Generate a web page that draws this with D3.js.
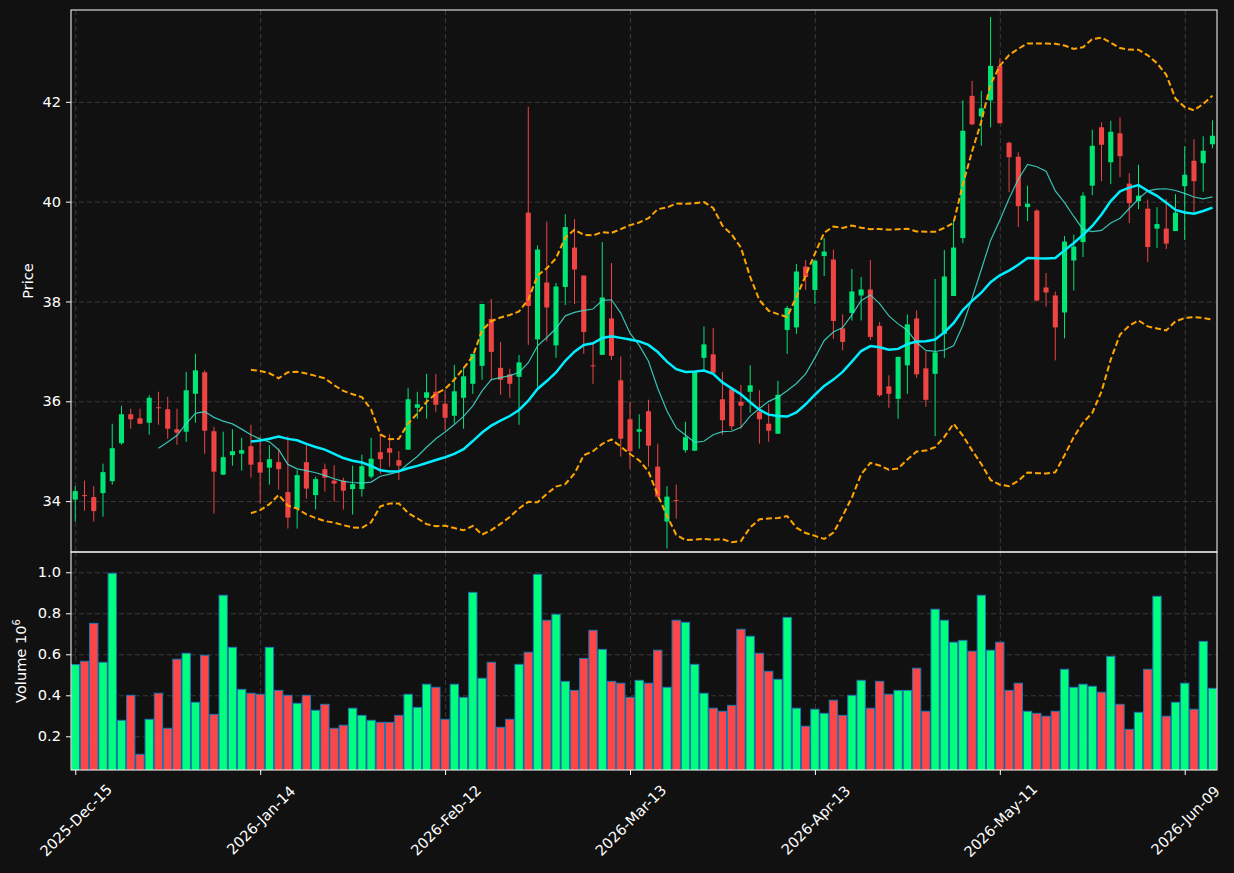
<!DOCTYPE html>
<html>
<head>
<meta charset="utf-8">
<script src="https://cdn.jsdelivr.net/npm/d3@7"></script>
<style>
  body { margin: 0; background: #111111; }
  text { font-family: "DejaVu Sans", sans-serif; }
</style>
</head>
<body>
<svg id="chart"></svg>
<script>
var width = 1234;
var height = 873;
var left = 71, right = 1217;
var priceTop = 10, priceBottom = 552, volBottom = 770;

// daily OHLC
var opens = [34.03,34.12,34.08,34.16,34.40,35.16,35.74,35.66,35.57,35.88,
  35.84,35.44,35.39,36.15,36.58,35.40,34.53,34.92,34.95,35.10,
  34.78,34.67,34.78,34.18,33.85,34.78,34.12,34.64,34.41,34.41,
  34.24,34.24,34.49,34.98,35.06,34.82,35.03,35.87,36.07,36.19,
  35.95,35.71,36.07,36.35,36.71,37.65,36.67,36.54,36.49,39.78,
  37.24,38.38,37.12,38.29,39.08,38.52,36.72,36.93,37.66,36.42,
  35.64,35.39,35.80,34.69,33.59,34.02,35.02,35.01,36.87,36.94,
  36.04,36.24,35.99,36.19,35.79,35.55,35.35,37.43,37.48,38.70,
  38.23,38.91,38.84,37.46,37.77,38.12,38.24,37.51,36.30,36.05,
  36.72,37.66,36.66,36.55,37.35,38.11,39.27,42.12,41.71,42.03,
  42.72,41.18,40.90,39.89,39.82,38.28,38.12,37.78,38.82,39.19,
  40.32,41.49,40.79,41.37,40.36,40.01,39.86,39.46,39.46,39.41,
  40.31,40.82,40.77,41.15];
var highs = [34.30,34.41,34.30,34.75,35.55,35.91,35.85,35.85,36.12,36.19,
  36.09,35.85,36.59,36.95,36.62,35.49,35.39,35.44,35.27,35.53,
  35.29,35.12,35.05,35.30,34.62,35.12,34.49,34.75,34.72,34.47,
  34.71,34.93,35.27,35.35,35.34,35.00,36.27,36.19,36.55,36.55,
  36.22,36.73,36.69,36.95,37.95,38.05,37.19,36.65,36.93,41.90,
  39.12,39.60,38.37,39.75,39.65,38.52,37.15,39.19,38.77,36.90,
  35.99,35.74,36.03,35.15,34.30,34.33,35.59,36.60,37.50,37.47,
  36.59,36.24,36.33,36.72,36.22,35.95,36.41,37.91,38.75,38.83,
  38.82,39.27,39.04,37.74,38.65,38.49,38.83,37.59,36.52,36.89,
  37.74,37.82,37.00,38.45,39.03,39.63,42.03,42.42,42.22,43.70,
  42.87,41.20,40.99,40.32,39.85,38.57,38.20,39.31,39.34,40.19,
  41.44,41.59,41.62,41.69,40.57,40.74,40.04,39.89,40.05,40.15,
  41.11,41.25,41.31,41.63];
var lows = [33.59,33.81,33.59,33.69,34.33,35.13,35.45,35.54,35.33,35.53,
  35.25,35.13,35.19,35.57,34.95,33.75,34.52,34.71,34.61,34.47,
  33.95,34.33,34.23,33.45,33.45,34.05,33.83,34.19,33.99,33.83,
  33.73,34.09,34.45,34.55,34.69,34.42,35.03,35.65,35.65,35.79,
  35.42,35.55,35.45,36.15,36.43,36.42,36.13,36.07,35.53,37.13,
  36.29,37.20,36.87,37.93,37.95,36.95,36.35,36.93,36.83,34.89,
  34.65,35.05,34.69,34.07,33.05,33.65,34.97,35.00,36.62,36.57,
  35.33,35.42,35.45,35.77,35.15,35.19,35.35,36.95,37.35,38.23,
  37.95,38.51,37.25,37.02,37.62,37.62,37.23,36.09,35.87,35.65,
  36.15,36.47,35.89,35.30,36.87,38.11,39.17,41.53,41.12,41.49,
  41.57,40.19,39.49,39.61,38.00,37.90,36.82,37.26,38.22,38.89,
  40.13,40.41,40.35,40.49,39.57,39.85,38.79,39.07,39.05,39.41,
  39.23,39.76,40.20,41.07];
var closes = [34.20,34.10,33.80,34.58,35.06,35.74,35.64,35.55,36.07,35.86,
  35.45,35.37,36.22,36.62,35.41,34.59,34.88,35.00,35.02,34.73,
  34.57,34.84,34.64,33.67,34.52,34.25,34.44,34.47,34.35,34.21,
  34.34,34.70,34.85,34.84,34.97,34.71,36.04,35.94,36.18,35.93,
  35.67,36.20,36.50,36.95,37.95,36.99,36.43,36.35,36.78,37.91,
  39.04,37.88,38.30,39.49,38.64,37.39,36.70,38.08,36.91,35.25,
  35.00,35.44,35.11,34.09,34.09,34.00,35.28,36.59,37.14,36.57,
  35.62,35.50,35.91,36.32,35.64,35.41,36.13,37.87,38.60,38.49,
  38.82,39.00,37.61,37.19,38.20,38.24,37.29,36.12,36.15,36.89,
  37.54,36.54,36.03,36.98,38.50,39.08,41.42,41.55,41.87,42.72,
  41.57,40.89,39.91,39.96,38.02,38.18,37.48,39.20,39.10,40.12,
  41.12,41.14,41.40,40.91,39.97,40.12,39.09,39.55,39.16,39.78,
  40.54,40.41,41.02,41.32];
// volume in millions
var volumes = [0.550,0.566,0.751,0.561,0.995,0.278,0.400,0.112,0.283,0.410,
  0.239,0.576,0.605,0.366,0.595,0.307,0.888,0.634,0.429,0.410,
  0.405,0.634,0.424,0.400,0.361,0.400,0.327,0.356,0.239,0.254,
  0.337,0.302,0.278,0.268,0.268,0.302,0.405,0.341,0.454,0.439,
  0.283,0.454,0.390,0.902,0.483,0.561,0.244,0.283,0.551,0.610,
  0.990,0.766,0.795,0.468,0.424,0.580,0.717,0.624,0.468,0.459,
  0.390,0.473,0.459,0.620,0.439,0.766,0.756,0.551,0.410,0.337,
  0.322,0.351,0.722,0.688,0.605,0.517,0.478,0.780,0.337,0.249,
  0.332,0.312,0.376,0.302,0.400,0.473,0.337,0.468,0.405,0.424,
  0.424,0.532,0.322,0.820,0.766,0.659,0.668,0.615,0.888,0.620,
  0.659,0.424,0.459,0.322,0.312,0.298,0.322,0.527,0.439,0.454,
  0.444,0.415,0.590,0.356,0.234,0.317,0.527,0.883,0.298,0.366,
  0.459,0.332,0.663,0.434];

var tickIdx = [0, 20, 40, 60, 80, 100, 120];
var tickLabels = ["2025-Dec-15", "2026-Jan-14", "2026-Feb-12", "2026-Mar-13",
  "2026-Apr-13", "2026-May-11", "2026-Jun-09"];
var priceTicks = [34, 36, 38, 40, 42];
var volTicks = [0.2, 0.4, 0.6, 0.8, 1.0];

var candles = closes.map((c, i) => ({i: i, o: opens[i], h: highs[i], l: lows[i], c: c, v: volumes[i]}));

// moving averages and bollinger bands (20, 2 sd)
function sma(n) {
  return closes.map((c, i) => {
    if (i < n - 1) return null;
    return {i: i, v: d3.mean(closes.slice(i - n + 1, i + 1))};
  }).filter(d => d);
}
var sma10 = sma(10);
var sma20 = sma(20);
var bbUpper = [], bbLower = [];
closes.forEach((c, i) => {
  if (i < 19) return;
  var w = closes.slice(i - 19, i + 1);
  var m = d3.mean(w);
  var sd = Math.sqrt(d3.mean(w, d => (d - m) * (d - m)));
  bbUpper.push({i: i, v: m + 2 * sd});
  bbLower.push({i: i, v: m - 2 * sd});
});

var upColor = "#00e676", downColor = "#ef4444";
var volUp = "#00ff7f", volDown = "#ff4646";
var gridColor = "#3a3a3a";
var fontSize = "14.6px";

var xScale = d3.scaleLinear().domain([-0.46, 123.49]).range([left, right]);
var yScale = d3.scaleLinear().domain([32.98, 43.84]).range([priceBottom, priceTop]);
var vScale = d3.scaleLinear().domain([0.0356, 1.099]).range([volBottom, priceBottom]);

var svg = d3.select("#chart")
    .attr("width", width)
    .attr("height", height)
    .style("background", "#111111");

svg.append("rect").attr("width", width).attr("height", height).attr("fill", "#111111");

var defs = svg.append("defs");
defs.append("clipPath").attr("id", "clipPrice")
  .append("rect").attr("x", left).attr("y", priceTop)
  .attr("width", right - left).attr("height", priceBottom - priceTop);
defs.append("clipPath").attr("id", "clipVol")
  .append("rect").attr("x", left).attr("y", priceBottom)
  .attr("width", right - left).attr("height", volBottom - priceBottom);

// grids
function grid(g) {
  g.select(".domain").remove();
  g.selectAll("text").remove();
  g.selectAll("line").attr("stroke", gridColor).attr("stroke-dasharray", "5,3");
}
svg.append("g")
    .attr("transform", `translate(${left},0)`)
    .call(d3.axisLeft(yScale).tickValues(priceTicks).tickSize(-(right - left)))
    .call(grid);
svg.append("g")
    .attr("transform", `translate(${left},0)`)
    .call(d3.axisLeft(vScale).tickValues(volTicks).tickSize(-(right - left)))
    .call(grid);
svg.append("g")
    .attr("transform", `translate(0,${priceTop})`)
    .call(d3.axisBottom(xScale).tickValues(tickIdx).tickSize(priceBottom - priceTop))
    .call(grid);
svg.append("g")
    .attr("transform", `translate(0,${priceBottom})`)
    .call(d3.axisBottom(xScale).tickValues(tickIdx).tickSize(volBottom - priceBottom))
    .call(grid);

// candles
var step = xScale(1) - xScale(0);
var bodyW = step * 0.55;
var priceG = svg.append("g").attr("clip-path", "url(#clipPrice)");

var cg = priceG.selectAll("g.candle")
  .data(candles)
  .enter()
  .append("g")
    .attr("class", "candle");
cg.append("line")
    .attr("x1", d => xScale(d.i))
    .attr("x2", d => xScale(d.i))
    .attr("y1", d => yScale(d.h))
    .attr("y2", d => yScale(d.l))
    .attr("stroke", d => d.c >= d.o ? upColor : downColor)
    .attr("stroke-width", 1);
cg.append("rect")
    .attr("x", d => xScale(d.i) - bodyW / 2)
    .attr("width", bodyW)
    .attr("y", d => yScale(Math.max(d.o, d.c)))
    .attr("height", d => Math.max(1, Math.abs(yScale(d.o) - yScale(d.c))))
    .attr("fill", d => d.c >= d.o ? upColor : downColor);

// indicator lines
var line = d3.line().x(d => xScale(d.i)).y(d => yScale(d.v));
priceG.append("path")
    .datum(sma10)
    .attr("d", line)
    .attr("fill", "none")
    .attr("stroke", "#40e0d0")
    .attr("stroke-opacity", 0.85)
    .attr("stroke-width", 1.2);
priceG.append("path")
    .datum(sma20)
    .attr("d", line)
    .attr("fill", "none")
    .attr("stroke", "#00eeff")
    .attr("stroke-width", 2.5);
[bbUpper, bbLower].forEach(band => {
  priceG.append("path")
      .datum(band)
      .attr("d", line)
      .attr("fill", "none")
      .attr("stroke", "#ffa500")
      .attr("stroke-width", 2)
      .attr("stroke-dasharray", "6,3");
});

// volume bars
var barW = step * 0.9;
svg.append("g")
    .attr("clip-path", "url(#clipVol)")
  .selectAll("rect")
  .data(candles)
  .enter()
  .append("rect")
    .attr("x", d => xScale(d.i) - barW / 2)
    .attr("width", barW)
    .attr("y", d => vScale(d.v))
    .attr("height", d => volBottom - vScale(d.v) + 2)
    .attr("fill", d => d.c >= d.o ? volUp : volDown)
    .attr("stroke", "#1f77b4")
    .attr("stroke-width", 1);

// axes
function styleAxis(g) {
  g.select(".domain").remove();
  g.selectAll("line").attr("stroke", "#ffffff");
  g.selectAll("text").attr("fill", "#ffffff").style("font-size", fontSize)
    .style("font-family", "DejaVu Sans, sans-serif");
}
svg.append("g")
    .attr("transform", `translate(${left},0)`)
    .call(d3.axisLeft(yScale).tickValues(priceTicks).tickSize(5).tickPadding(5).tickFormat(d3.format("d")))
    .call(styleAxis);
svg.append("g")
    .attr("transform", `translate(${left},0)`)
    .call(d3.axisLeft(vScale).tickValues(volTicks).tickSize(5).tickPadding(5).tickFormat(d3.format(".1f")))
    .call(styleAxis);
var xAxisG = svg.append("g")
    .attr("transform", `translate(0,${volBottom})`)
    .call(d3.axisBottom(xScale).tickValues(tickIdx).tickSize(5).tickFormat((d, k) => tickLabels[k]))
    .call(styleAxis);
xAxisG.selectAll("text")
    .attr("y", null)
    .attr("dy", null)
    .attr("text-anchor", "middle")
    .attr("dominant-baseline", "central")
    .attr("transform", "translate(0,50) rotate(-45)");

// frames
svg.append("rect")
    .attr("x", left).attr("y", priceTop)
    .attr("width", right - left).attr("height", priceBottom - priceTop)
    .attr("fill", "none").attr("stroke", "#ffffff").attr("stroke-width", 1);
svg.append("rect")
    .attr("x", left).attr("y", priceBottom)
    .attr("width", right - left).attr("height", volBottom - priceBottom)
    .attr("fill", "none").attr("stroke", "#ffffff").attr("stroke-width", 1);

// axis titles
svg.append("text")
    .attr("transform", `translate(27,${(priceTop + priceBottom) / 2}) rotate(-90)`)
    .attr("text-anchor", "middle")
    .attr("dominant-baseline", "central")
    .attr("fill", "#ffffff")
    .style("font-size", fontSize)
    .text("Price");
var vt = svg.append("text")
    .attr("transform", `translate(20,${(priceBottom + volBottom) / 2}) rotate(-90)`)
    .attr("text-anchor", "middle")
    .attr("dominant-baseline", "central")
    .attr("fill", "#ffffff")
    .style("font-size", fontSize);
vt.append("tspan").text("Volume  10");
vt.append("tspan").attr("dy", "-0.45em").style("font-size", "10px").text("6");
</script>
</body>
</html>
